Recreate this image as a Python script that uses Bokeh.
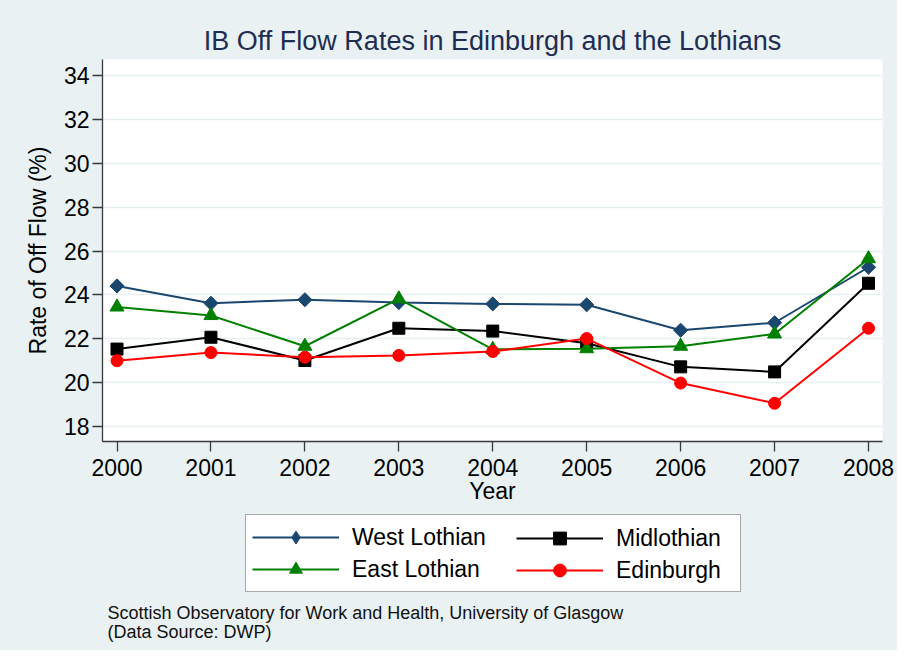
import math
from bokeh.plotting import figure
from bokeh.layouts import column
from bokeh.models import Range1d, Legend, LegendItem, Label
from bokeh.embed import file_html
from bokeh.resources import INLINE

# ---- data ----
years = [2000, 2001, 2002, 2003, 2004, 2005, 2006, 2007, 2008]
west_lothian = [24.41, 23.62, 23.78, 23.65, 23.59, 23.55, 22.39, 22.73, 25.26]
midlothian = [21.53, 22.07, 21.01, 22.48, 22.35, 21.80, 20.72, 20.49, 24.53]
east_lothian = [23.45, 23.06, 21.66, 23.82, 21.52, 21.55, 21.66, 22.22, 25.65]
edinburgh = [21.00, 21.37, 21.16, 21.24, 21.42, 22.01, 19.98, 19.06, 22.48]
series_names = ["West Lothian", "Midlothian", "East Lothian", "Edinburgh"]
series_colors = ["#1a476f", "#000000", "#008000", "#ff0000"]
y_ticks = [18, 20, 22, 24, 26, 28, 30, 32, 34]
title_text = "IB Off Flow Rates in Edinburgh and the Lothians"
x_label = "Year"
y_label = "Rate of Off Flow (%)"
source_lines = ["Scottish Observatory for Work and Health, University of Glasgow",
                "(Data Source: DWP)"]

FONT = "Liberation Sans"
BG = "#e9f1f3"
GRID = "#e6eff2"
AXIS = "#3a3a3a"
W = 897
H_TOP = 508
H_BOT = 142
LEFT = 102
RIGHT = 15

# ---------------- main chart ----------------
p = figure(width=W, height=H_TOP, output_backend="svg", toolbar_location=None,
           x_range=Range1d(1999.8456, 2008.1488), y_range=Range1d(17.318, 34.729),
           min_border_left=LEFT, min_border_right=RIGHT, min_border_top=59, min_border_bottom=67,
           background_fill_color="white", border_fill_color=BG, outline_line_color=None)

p.title.text = title_text
p.title.align = "center"
p.title.text_font = FONT
p.title.text_font_size = "27px"
p.title.text_font_style = "normal"
p.title.text_color = "#1f2d52"
p.title.standoff = 8

p.xaxis.ticker = years
p.yaxis.ticker = y_ticks
p.xaxis.axis_label = x_label
p.yaxis.axis_label = y_label
for ax in p.axis:
    ax.axis_line_color = AXIS
    ax.axis_line_width = 1.3
    ax.major_tick_line_color = AXIS
    ax.major_tick_line_width = 1.3
    ax.major_tick_out = 10
    ax.major_tick_in = 0
    ax.minor_tick_out = 0
    ax.minor_tick_in = 0
    ax.major_label_text_font = FONT
    ax.major_label_text_font_size = "23px"
    ax.major_label_text_color = "black"
    ax.axis_label_text_font = FONT
    ax.axis_label_text_font_size = "23px"
    ax.axis_label_text_font_style = "normal"
    ax.axis_label_text_color = "black"
p.xaxis.major_label_standoff = 7
p.xaxis.axis_label_standoff = -1
p.yaxis.major_label_standoff = 3
p.yaxis.axis_label_standoff = 10

p.xgrid.grid_line_color = None
p.ygrid.grid_line_color = GRID
p.ygrid.grid_line_width = 1.5

series_values = [west_lothian, midlothian, east_lothian, edinburgh]
plot_markers = [("square", 10, math.pi / 4), ("square", 12, 0), ("triangle", 14, 0), ("circle", 12, 0)]
for vals, color, (marker, size, angle) in zip(series_values, series_colors, plot_markers):
    p.line(years, vals, line_color=color, line_width=2)
    p.scatter(years, vals, marker=marker, size=size, angle=angle,
              fill_color=color, line_color=color)

# ---------------- legend + source note strip ----------------
# frame spans the same columns as the chart above; ranges map 1 unit = 1 pixel
p2 = figure(width=W, height=H_BOT, output_backend="svg", toolbar_location=None,
            x_range=Range1d(LEFT, W - RIGHT), y_range=Range1d(0, H_BOT),
            min_border_left=LEFT, min_border_right=RIGHT, min_border_top=0,
            min_border_bottom=0, x_axis_location=None, y_axis_location=None,
            background_fill_color=BG, border_fill_color=BG, outline_line_color=None)
p2.grid.grid_line_color = None

legend_markers = ["diamond", "square", "triangle", "circle"]
nan = float("nan")
leg_items = []
for name, color, marker in zip(series_names, series_colors, legend_markers):
    ln = p2.line([nan], [nan], line_color=color, line_width=2)
    sc = p2.scatter([nan], [nan], marker=marker, fill_color=color, line_color=color)
    leg_items.append(LegendItem(label=name, renderers=[ln, sc]))

common = dict(orientation="vertical", glyph_width=87, glyph_height=32, label_height=32,
              label_standoff=13, spacing=0, padding=6, margin=0,
              label_text_font=FONT, label_text_font_size="23px", label_text_color="black")

legA = Legend(items=[leg_items[0], leg_items[2]], location=(245 - LEFT, 58), label_width=382,
              border_line_color="#555555", border_line_width=1.5,
              background_fill_color="white", background_fill_alpha=1.0, **common)
legB = Legend(items=[leg_items[1], leg_items[3]], location=(510 - LEFT, 58), label_width=100,
              border_line_alpha=0, background_fill_alpha=0, **common)
p2.add_layout(legA)
p2.add_layout(legB)

for i, line in enumerate(source_lines):
    p2.add_layout(Label(x=107, y=38 - 19 * i, text=line,
                        text_font=FONT, text_font_size="18px", text_color="#111111",
                        text_baseline="middle", text_align="left"))

layout = column(p, p2, spacing=0, styles={"background-color": BG})
open("out.html", "w").write(file_html(layout, INLINE))
